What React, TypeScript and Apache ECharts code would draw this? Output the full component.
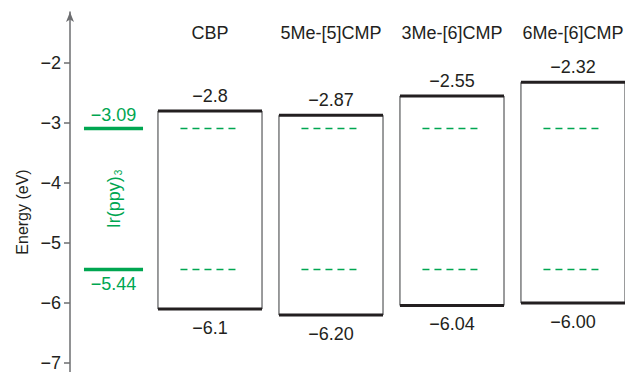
import React, { useEffect, useRef } from "react";
import * as echarts from "echarts";

// ---- data ----
const hostNames = ["CBP", "5Me-[5]CMP", "3Me-[6]CMP", "6Me-[6]CMP"];
const hostLumo = [-2.8, -2.87, -2.55, -2.32];
const hostHomo = [-6.1, -6.2, -6.04, -6.0];
const hostLumoLabels = ["\u22122.8", "\u22122.87", "\u22122.55", "\u22122.32"];
const hostHomoLabels = ["\u22126.1", "\u22126.20", "\u22126.04", "\u22126.00"];
const dopantName = "Ir(ppy)";
const dopantSub = "3";
const dopantLumo = -3.09;
const dopantHomo = -5.44;
const dopantLumoLabel = "\u22123.09";
const dopantHomoLabel = "\u22125.44";
const yTicks = [-7, -6, -5, -4, -3, -2];
const yTitle = "Energy (eV)";

// ---- layout (not data) ----
const hostSlots = [1, 2, 3, 4];
const dopantSlot = 0.2025;
const BOX_HALF = 0.43;
const DASH_HALF = 0.244;
const DOPANT_HALF = 0.244;
const NAME_Y = -1.5;
const GREEN = "#00a651";
const TEXT = "#231f20";
const FONT = "'Liberation Sans', Arial, Helvetica, sans-serif";
const FS = 18;

const fmtMinus = (v: number) => (v < 0 ? "\u2212" + String(Math.abs(v)) : String(v));

export default function App() {
  const ref = useRef<HTMLDivElement>(null);
  useEffect(() => {
    if (!ref.current) return;
    const chart = echarts.init(ref.current, undefined, { renderer: "svg" });

    const hostData = hostSlots.map((s, i) => [s, hostLumo[i], hostHomo[i]]);

    const option: any = {
      animation: false,
      backgroundColor: "#ffffff",
      grid: { left: 70, right: 0, top: 12, bottom: 0, containLabel: false },
      xAxis: {
        type: "value",
        min: -0.157,
        max: 4.43,
        show: false,
      },
      yAxis: {
        type: "value",
        min: -7.15,
        max: -1.15,
        splitLine: { show: false },
        axisLine: {
          show: true,
          onZero: false,
          symbol: ["none", "arrow"],
          symbolSize: [6, 10],
          lineStyle: { color: "#6d6e71", width: 1.5 },
        },
        axisTick: {
          show: true,
          length: 6,
          customValues: yTicks,
          lineStyle: { color: "#6d6e71", width: 1.5 },
        },
        axisLabel: {
          customValues: yTicks,
          margin: 9,
          fontSize: FS,
          color: TEXT,
          fontFamily: FONT,
          formatter: fmtMinus,
        },
      },
      graphic: [
        {
          type: "text",
          x: 22,
          y: 212,
          rotation: Math.PI / 2,
          style: {
            text: yTitle,
            fontSize: 16,
            fill: TEXT,
            fontFamily: FONT,
            textAlign: "center",
            textVerticalAlign: "middle",
          },
        },
      ],
      series: [
        {
          type: "custom",
          name: "hosts",
          coordinateSystem: "cartesian2d",
          clip: false,
          data: hostData,
          renderItem: (params: any, api: any) => {
            const i = params.dataIndex;
            const x = api.value(0);
            const top = api.value(1);
            const bot = api.value(2);
            const tl = api.coord([x - BOX_HALF, top]);
            const br = api.coord([x + BOX_HALF, bot]);
            const c = api.coord([x, top]);
            const nameP = api.coord([x, NAME_Y]);
            const dL1 = api.coord([x - DASH_HALF, dopantLumo]);
            const dR1 = api.coord([x + DASH_HALF, dopantLumo]);
            const dL2 = api.coord([x - DASH_HALF, dopantHomo]);
            const dR2 = api.coord([x + DASH_HALF, dopantHomo]);
            const side = { stroke: "#58595b", lineWidth: 1.2 };
            const thick = { stroke: "#231f20", lineWidth: 3 };
            const dash = { stroke: GREEN, lineWidth: 1.5, lineDash: [7, 5] };
            const txt = (t: string, px: number, py: number) => ({
              type: "text",
              x: px,
              y: py,
              style: {
                text: t,
                fontSize: FS,
                fill: TEXT,
                fontFamily: FONT,
                textAlign: "center",
                textVerticalAlign: "middle",
              },
            });
            return {
              type: "group",
              children: [
                { type: "line", shape: { x1: tl[0], y1: tl[1], x2: tl[0], y2: br[1] }, style: side },
                { type: "line", shape: { x1: br[0], y1: tl[1], x2: br[0], y2: br[1] }, style: side },
                { type: "line", shape: { x1: tl[0], y1: tl[1], x2: br[0], y2: tl[1] }, style: thick },
                { type: "line", shape: { x1: tl[0], y1: br[1], x2: br[0], y2: br[1] }, style: thick },
                { type: "line", shape: { x1: dL1[0], y1: dL1[1], x2: dR1[0], y2: dR1[1] }, style: dash },
                { type: "line", shape: { x1: dL2[0], y1: dL2[1], x2: dR2[0], y2: dR2[1] }, style: dash },
                txt(hostLumoLabels[i], c[0], tl[1] - 15),
                txt(hostHomoLabels[i], c[0], br[1] + 19),
                txt(hostNames[i], nameP[0], nameP[1]),
              ],
            };
          },
        },
        {
          type: "custom",
          name: "dopant",
          coordinateSystem: "cartesian2d",
          clip: false,
          data: [[dopantSlot, dopantLumo, dopantHomo]],
          renderItem: (_params: any, api: any) => {
            const x = api.value(0);
            const top = api.value(1);
            const bot = api.value(2);
            const l1 = api.coord([x - DOPANT_HALF, top]);
            const r1 = api.coord([x + DOPANT_HALF, top]);
            const l2 = api.coord([x - DOPANT_HALF, bot]);
            const r2 = api.coord([x + DOPANT_HALF, bot]);
            const mid = api.coord([x, (top + bot) / 2]);
            const st = { stroke: GREEN, lineWidth: 3.5 };
            const gt = (t: string, px: number, py: number) => ({
              type: "text",
              x: px,
              y: py,
              style: {
                text: t,
                fontSize: FS,
                fill: GREEN,
                fontFamily: FONT,
                textAlign: "center",
                textVerticalAlign: "middle",
              },
            });
            return {
              type: "group",
              children: [
                { type: "line", shape: { x1: l1[0], y1: l1[1], x2: r1[0], y2: r1[1] }, style: st },
                { type: "line", shape: { x1: l2[0], y1: l2[1], x2: r2[0], y2: r2[1] }, style: st },
                gt(dopantLumoLabel, mid[0], l1[1] - 13),
                gt(dopantHomoLabel, mid[0], l2[1] + 15),
                {
                  type: "text",
                  x: mid[0] + 1,
                  y: mid[1],
                  rotation: Math.PI / 2,
                  style: {
                    text: "{a|" + dopantName + "}{s|" + dopantSub + "}",
                    fontFamily: FONT,
                    textAlign: "center",
                    textVerticalAlign: "middle",
                    rich: {
                      a: { fontSize: FS, fill: GREEN, fontFamily: FONT },
                      s: { fontSize: 10, fill: GREEN, fontFamily: FONT, verticalAlign: "bottom", padding: [6, 0, 0, 1] },
                    },
                  },
                },
              ],
            };
          },
        },
      ],
    };
    chart.setOption(option);
    return () => chart.dispose();
  }, []);
  return (
    <div
      ref={ref}
      style={{ position: "absolute", left: 0, top: 0, width: 625, height: 372 }}
    />
  );
}
